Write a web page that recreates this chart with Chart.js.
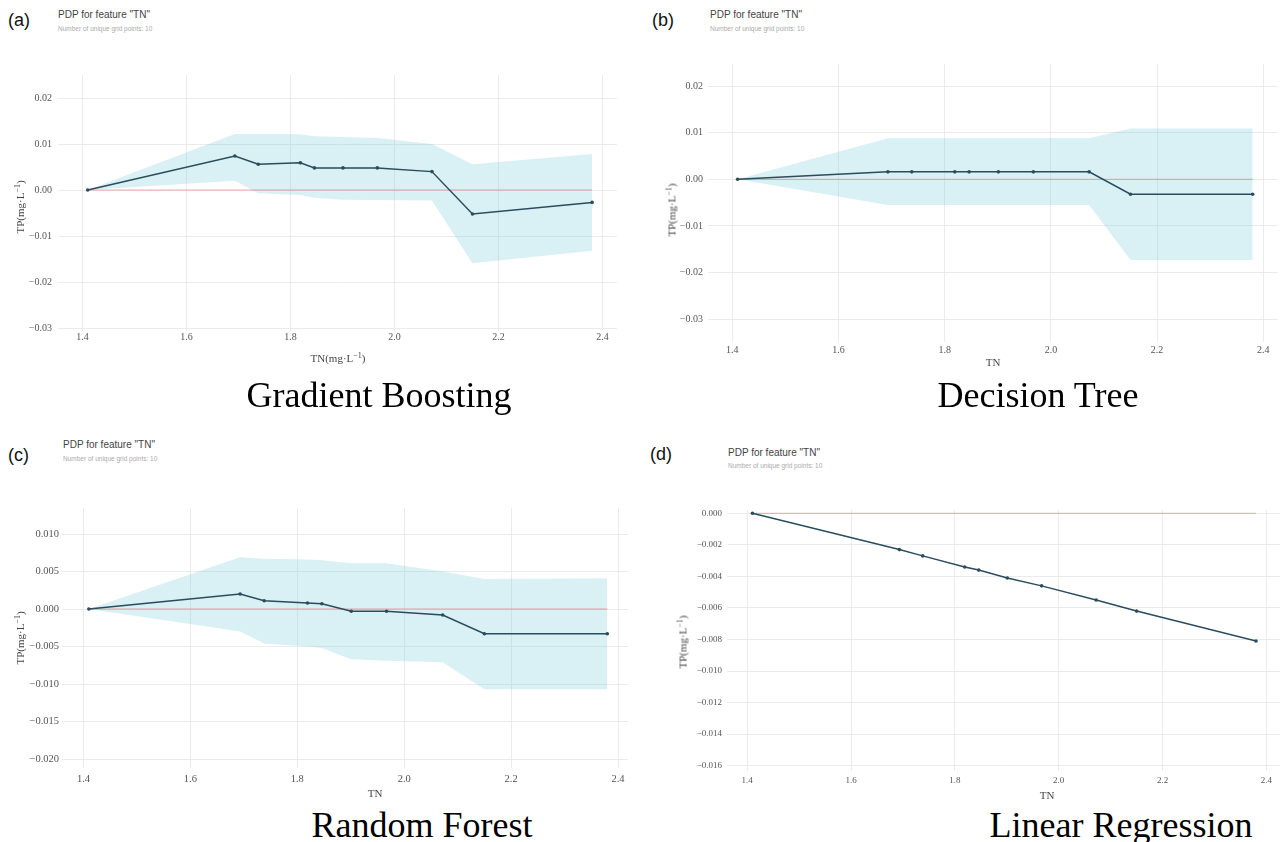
<!DOCTYPE html>
<html><head><meta charset="utf-8">
<script src="https://cdn.jsdelivr.net/npm/chart.js@4"></script>
<style>
html,body{margin:0;padding:0;background:#fff;}
#wrap{position:relative;width:1284px;height:842px;overflow:hidden;background:#fff;}
canvas{position:absolute;}
.t{position:absolute;white-space:nowrap;line-height:1;}
.c{transform:translate(-50%,-50%);}
.r{transform:translate(-50%,-50%) rotate(-90deg);}
.panel{font-family:'Liberation Sans',Arial,sans-serif;font-size:18px;color:#111;}
.title{font-family:'Liberation Sans',Arial,sans-serif;font-size:10px;color:#444;}
.sub{font-family:'Liberation Sans',Arial,sans-serif;font-size:6.5px;color:#aaa;}
.ax{font-family:'Liberation Serif','Times New Roman',serif;font-size:11px;color:#444;}
.ax sup{font-size:8px;vertical-align:4px;line-height:0;}
.big{font-family:'Liberation Serif','Times New Roman',serif;font-size:36px;color:#000;}
</style></head><body><div id="wrap">
<canvas id="ca"></canvas><canvas id="cb"></canvas><canvas id="cc"></canvas><canvas id="cd"></canvas>

<div class="t panel" style="left:8px;top:11px;">(a)</div>
<div class="t panel" style="left:652px;top:11px;">(b)</div>
<div class="t panel" style="left:8px;top:446px;">(c)</div>
<div class="t panel" style="left:650px;top:445px;">(d)</div>

<div class="t title" style="left:58px;top:10px;">PDP for feature "TN"</div>
<div class="t sub" style="left:58px;top:26px;">Number of unique grid points: 10</div>
<div class="t title" style="left:710px;top:10px;">PDP for feature "TN"</div>
<div class="t sub" style="left:710px;top:26px;">Number of unique grid points: 10</div>
<div class="t title" style="left:63px;top:440px;">PDP for feature "TN"</div>
<div class="t sub" style="left:63px;top:456px;">Number of unique grid points: 10</div>
<div class="t title" style="left:728px;top:448px;">PDP for feature "TN"</div>
<div class="t sub" style="left:728px;top:463px;">Number of unique grid points: 10</div>

<div class="t ax r" style="left:20px;top:207px;">TP(mg·L<sup>−1</sup>)</div>
<div class="t ax r" style="left:672px;top:210px;">TP(mg·L<sup>−1</sup>)</div>
<div class="t ax r" style="left:20px;top:638px;">TP(mg·L<sup>−1</sup>)</div>
<div class="t ax r" style="left:683px;top:642px;">TP(mg·L<sup>−1</sup>)</div>

<div class="t ax c" style="left:338px;top:358px;">TN(mg·L<sup>−1</sup>)</div>
<div class="t ax c" style="left:993px;top:362px;">TN</div>
<div class="t ax c" style="left:375px;top:793px;">TN</div>
<div class="t ax c" style="left:1047px;top:795px;">TN</div>

<div class="t big c" style="left:379px;top:395px;">Gradient Boosting</div>
<div class="t big c" style="left:1038px;top:395px;">Decision Tree</div>
<div class="t big c" style="left:422px;top:825px;">Random Forest</div>
<div class="t big c" style="left:1121px;top:825px;">Linear Regression</div>
</div>
<script>
// ---- data ----
const gridTN = [1.41, 1.693, 1.738, 1.819, 1.846, 1.901, 1.967, 2.072, 2.15, 2.38];
const xTicks = [1.4, 1.6, 1.8, 2.0, 2.2, 2.4];
const xTickLabels = ['1.4', '1.6', '1.8', '2.0', '2.2', '2.4'];

const gbPdp   = [0, 0.0074, 0.0056, 0.0059, 0.0048, 0.0048, 0.0048, 0.0040, -0.0052, -0.0027];
const gbUpper = [0, 0.0122, 0.0122, 0.0121, 0.0117, 0.0115, 0.0113, 0.0100, 0.0056, 0.0078];
const gbLower = [0, 0.0020, -0.0007, -0.0011, -0.0017, -0.0021, -0.0022, -0.0023, -0.0159, -0.0132];

const dtPdp   = [0, 0.0016, 0.0016, 0.0016, 0.0016, 0.0016, 0.0016, 0.0016, -0.0032, -0.0032];
const dtUpper = [0, 0.0088, 0.0088, 0.0088, 0.0088, 0.0088, 0.0088, 0.0088, 0.0109, 0.0109];
const dtLower = [0, -0.0055, -0.0055, -0.0055, -0.0055, -0.0055, -0.0055, -0.0055, -0.0173, -0.0173];

const rfPdp   = [0, 0.0020, 0.0011, 0.0008, 0.0007, -0.0003, -0.0003, -0.0008, -0.0033, -0.0033];
const rfUpper = [0, 0.0069, 0.0067, 0.0066, 0.0065, 0.0061, 0.0061, 0.0050, 0.0040, 0.0041];
const rfLower = [0, -0.0030, -0.0046, -0.0050, -0.0052, -0.0067, -0.0069, -0.0071, -0.0107, -0.0107];

const lrPdp   = [0, -0.0023, -0.0027, -0.0034, -0.0036, -0.0041, -0.0046, -0.0055, -0.0062, -0.0081];

const yTicksAB = [0.02, 0.01, 0, -0.01, -0.02, -0.03];
const yTickLabelsAB = ['0.02', '0.01', '0.00', '−0.01', '−0.02', '−0.03'];
const yTicksC = [0.010, 0.005, 0, -0.005, -0.010, -0.015, -0.020];
const yTickLabelsC = ['0.010', '0.005', '0.000', '−0.005', '−0.010', '−0.015', '−0.020'];
const yTicksD = [0, -0.002, -0.004, -0.006, -0.008, -0.010, -0.012, -0.014, -0.016];
const yTickLabelsD = ['0.000', '−0.002', '−0.004', '−0.006', '−0.008', '−0.010', '−0.012', '−0.014', '−0.016'];

// ---- styling / layout ----
const LINE = '#2A4C5E';
const FILL = 'rgba(102,194,215,0.25)';
const ZERO = 'rgba(235,90,90,0.5)';

function pts(vals) { return gridTN.map((x, i) => ({x: x, y: vals[i]})); }

function makeChart(p, pdp, upper, lower, yTicks, yLabels) {
  const cv = document.getElementById(p.id);
  cv.width = p.W; cv.height = p.H;
  cv.style.left = p.L + 'px'; cv.style.top = p.T + 'px';
  const ds = [
    {data: pts(pdp), borderColor: LINE, borderWidth: 1.5, pointRadius: 1.8, pointBackgroundColor: LINE, pointBorderWidth: 0, tension: 0, fill: false},
    {data: [{x: gridTN[0], y: 0}, {x: gridTN[gridTN.length - 1], y: 0}], borderColor: ZERO, borderWidth: 1, pointRadius: 0, fill: false}
  ];
  if (upper) {
    ds.push({data: pts(upper), borderColor: 'transparent', borderWidth: 0, pointRadius: 0, fill: '+1', backgroundColor: FILL, tension: 0});
    ds.push({data: pts(lower), borderColor: 'transparent', borderWidth: 0, pointRadius: 0, fill: false, tension: 0});
  }
  const tickFont = {family: "'Liberation Serif','Times New Roman',serif", size: p.fs};
  new Chart(cv, {
    type: 'line',
    data: {datasets: ds},
    options: {
      responsive: false, animation: false, devicePixelRatio: 1,
      layout: {padding: {left: 0, top: p.pt - p.T, right: p.L + p.W - p.pr, bottom: 0}},
      plugins: {legend: {display: false}, tooltip: {enabled: false}},
      scales: {
        x: {
          type: 'linear', min: p.xmin, max: p.xmax,
          afterFit: s => { s.height = p.T + p.H - p.pb; },
          afterBuildTicks: s => { s.ticks = xTicks.map(v => ({value: v})); },
          ticks: {callback: (v, i) => xTickLabels[i], font: tickFont, color: '#555', padding: p.xpad, maxRotation: 0, autoSkip: false},
          grid: {color: '#ebebeb', drawTicks: false, lineWidth: 1},
          border: {display: false}
        },
        y: {
          type: 'linear', min: p.ymin, max: p.ymax,
          afterFit: s => { s.width = p.pl - p.L; },
          afterBuildTicks: s => { s.ticks = yTicks.map(v => ({value: v})); },
          ticks: {callback: (v, i) => yLabels[i], font: tickFont, color: '#555', padding: p.ypad, autoSkip: false},
          grid: {color: '#ebebeb', drawTicks: false, lineWidth: 1},
          border: {display: false}
        }
      }
    }
  });
}

makeChart({id: 'ca', L: 0, T: 40, W: 640, H: 320, pl: 58, pt: 75, pr: 617, pb: 331,
  xmin: 1.3529, xmax: 2.4279, ymin: -0.03065, ymax: 0.025, fs: 10, xpad: 0, ypad: 6},
  gbPdp, gbUpper, gbLower, yTicksAB, yTickLabelsAB);
makeChart({id: 'cb', L: 640, T: 40, W: 644, H: 330, pl: 708, pt: 64, pr: 1278, pb: 342,
  xmin: 1.3542, xmax: 2.4277, ymin: -0.03488, ymax: 0.02472, fs: 10, xpad: 2, ypad: 5},
  dtPdp, dtUpper, dtLower, yTicksAB, yTickLabelsAB);
makeChart({id: 'cc', L: 0, T: 470, W: 640, H: 330, pl: 62, pt: 508, pr: 628, pb: 768,
  xmin: 1.3598, xmax: 2.4187, ymin: -0.0212, ymax: 0.01347, fs: 10.5, xpad: 5, ypad: 3},
  rfPdp, rfUpper, rfLower, yTicksC, yTickLabelsC);
makeChart({id: 'cd', L: 640, T: 470, W: 644, H: 330, pl: 727, pt: 510, pr: 1283, pb: 771,
  xmin: 1.3611, xmax: 2.4262, ymin: -0.01634, ymax: 0.00021, fs: 9, xpad: 4, ypad: 5},
  lrPdp, null, null, yTicksD, yTickLabelsD);
</script>
</body></html>
